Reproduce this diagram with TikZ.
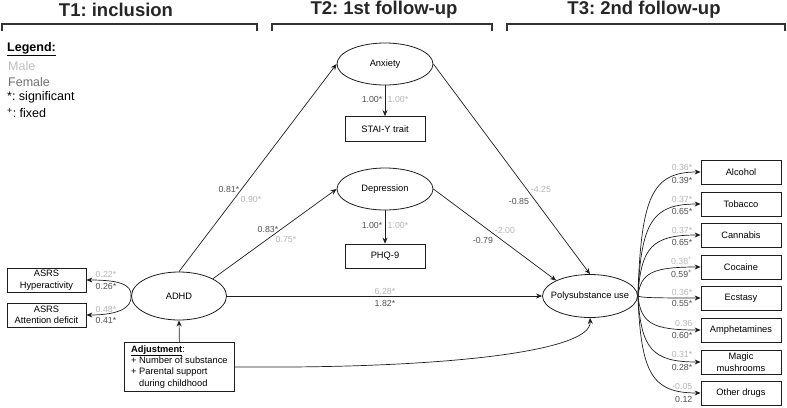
\documentclass[tikz,border=0pt]{standalone}
\usepackage{fontspec}
\setmainfont{Liberation Sans}
\usetikzlibrary{arrows.meta,shapes.geometric}
\definecolor{lightlab}{HTML}{B5B5B5}
\definecolor{darklab}{HTML}{505050}
\definecolor{malec}{HTML}{BDBDBD}
\definecolor{femalec}{HTML}{6E6E6E}
\definecolor{linec}{HTML}{1E1E1E}
\frenchspacing
\begin{document}
\begin{tikzpicture}[x=1pt,y=-1pt,
  ell/.style={ellipse,draw=linec,line width=0.8pt,minimum width=96pt,minimum height=42pt,inner sep=0pt,font=\fontsize{9.3}{11}\selectfont},
  box/.style={rectangle,draw=linec,line width=0.8pt,minimum width=80pt,minimum height=24pt,inner sep=1pt,align=center,font=\fontsize{9.3}{11.5}\selectfont},
  arr/.style={draw=linec,line width=0.7pt,-{Stealth[length=6pt,width=5pt]}},
  lt/.style={text=lightlab,inner sep=0.5pt,font=\fontsize{8.8}{10}\selectfont},
  dk/.style={text=darklab,inner sep=0.5pt,font=\fontsize{8.8}{10}\selectfont},
  ttl/.style={font=\fontsize{18.5}{20}\selectfont\bfseries,text=black!85},
  brk/.style={draw=black!80,line width=1.3pt},
  leg/.style={anchor=west,inner sep=0pt,font=\fontsize{12.5}{14}\selectfont}
]
\useasboundingbox (0,0) rectangle (787,407);

% titles and brackets
\node[ttl] (t1) at (116,10) {T1: inclusion};
\node[ttl] (t2) at (384,10) {T2: 1st follow-up};
\node[ttl] (t3) at (644,10) {T3: 2nd follow-up};
\draw[brk] (2,31) -- (2,24) -- (257,24) -- (257,31);
\draw[brk] (272,31) -- (272,24) -- (492,24) -- (492,31);
\draw[brk] (507,31) -- (507,24) -- (785,24) -- (785,31);

% legend
\node[leg] (lg0) at (7,49) {\underline{\textbf{Legend:}}};
\node[leg,text=malec] (lg1) at (8,66) {Male};
\node[leg,text=femalec] (lg2) at (8,82) {Female};
\node[leg] (lg3) at (7,97) {*: significant};
\node[leg] (lg4) at (7,113) {\textsuperscript{+}: fixed};

% nodes
\node[ell] (anx) at (385,64) {\makebox[0pt]{Anxiety}};
\node[box,minimum height=25pt] (stai) at (385,129) {STAI-Y trait};
\node[ell] (dep) at (385,189) {\makebox[0pt]{Depression}};
\node[box] (phq) at (385,256) {PHQ-9};
\node[ell,minimum width=95pt,minimum height=48pt] (adhd) at (179,296) {\makebox[0pt]{ADHD}};
\node[ell,minimum width=95pt,minimum height=43pt] (poly) at (590,296) {\makebox[0pt]{Polysubstance use}};
\node[box,minimum width=79pt] (hyp) at (46.5,280) {ASRS\\Hyperactivity};
\node[box,minimum width=79pt] (att) at (46.5,315) {ASRS\\Attention deficit};
\node[rectangle,draw=linec,line width=0.8pt,anchor=north west,minimum width=110pt,minimum height=49pt,inner sep=3pt,align=left,font=\fontsize{9.3}{11.3}\selectfont] (adj) at (124,342)
  {\underline{\textbf{Adjustment}}:\\+ Number of substance\\+ Parental support\\\phantom{+ }during childhood};

\node[box] (alc) at (741,172) {Alcohol};
\node[box] (tob) at (741,204) {Tobacco};
\node[box] (can) at (741,235) {Cannabis};
\node[box] (coc) at (741,267) {Cocaine};
\node[box] (ecs) at (741,298) {Ecstasy};
\node[box] (amp) at (741,330) {Amphetamines};
\node[box] (mag) at (741,362) {Magic\\mushrooms};
\node[box] (oth) at (741,393) {Other drugs};

% edges
\draw[arr] (adhd.north) -- (anx.west);
\draw[arr] (adhd.north east) -- (dep.west);
\draw[arr] (adhd.east) -- (poly.west);
\draw[arr] (anx.south) -- (stai.north);
\draw[arr] (dep.south) -- (phq.north);
\draw[arr] (anx.east) -- (poly.north);
\draw[arr] (dep.east) -- (poly.north west);
\draw[arr] (adj.north) -- (adhd.south);
\draw[arr] (adj.east) .. controls (440,369) and (592,352) .. (poly.south);
\draw[arr] (adhd.west) .. controls (132,284) and (118,280) .. (hyp.east);
\draw[arr] (adhd.west) .. controls (132,308) and (118,315) .. (att.east);
\foreach \n/\y in {alc/172,tob/204,can/235,coc/267,ecs/298,amp/330,mag/362,oth/393}{
  \draw[arr] (poly.east) .. controls (641,{296+0.8*(\y-296)}) and (652,\y) .. (\n.west);
}

% edge labels
\node[dk] (e1a) at (229,189) {0.81*};
\node[lt] (e1b) at (251,199) {0.90*};
\node[dk] (e2a) at (268,229) {0.83*};
\node[lt] (e2b) at (286,239) {0.75*};
\node[lt] (e3a) at (385,291) {6.28*};
\node[dk] (e3b) at (385,303) {1.82*};
\node[dk,anchor=east] (e4a) at (383,99) {1.00*};
\node[lt,anchor=west] (e4b) at (387,99) {1.00*};
\node[dk,anchor=east] (e5a) at (383,225) {1.00*};
\node[lt,anchor=west] (e5b) at (387,225) {1.00*};
\node[lt] (e6a) at (541,189) {-4.25};
\node[dk] (e6b) at (519,201) {-0.85};
\node[lt] (e7a) at (505,230) {-2.00};
\node[dk] (e7b) at (483,240) {-0.79};
\node[lt] (e8a) at (106,274) {0.22*};
\node[dk] (e8b) at (106,286) {0.26*};
\node[lt] (e9a) at (106,309) {0.48*};
\node[dk] (e9b) at (106,320) {0.41*};

\node[lt,anchor=east] (d1a) at (693,167) {0.36*};
\node[dk,anchor=east] (d1b) at (693,180) {0.39*};
\node[lt,anchor=east] (d2a) at (693,199) {0.37*};
\node[dk,anchor=east] (d2b) at (693,211) {0.65*};
\node[lt,anchor=east] (d3a) at (693,230) {0.37*};
\node[dk,anchor=east] (d3b) at (693,242) {0.65*};
\node[lt,anchor=east] (d4a) at (693,261) {0.38\textsuperscript{+}};
\node[dk,anchor=east] (d4b) at (693,274) {0.59\textsuperscript{+}};
\node[lt,anchor=east] (d5a) at (693,292) {0.36*};
\node[dk,anchor=east] (d5b) at (693,303) {0.55*};
\node[lt,anchor=east] (d6a) at (693,323) {0.36};
\node[dk,anchor=east] (d6b) at (693,335) {0.60*};
\node[lt,anchor=east] (d7a) at (693,354) {0.31*};
\node[dk,anchor=east] (d7b) at (693,367) {0.28*};
\node[lt,anchor=east] (d8a) at (693,386) {-0.05};
\node[dk,anchor=east] (d8b) at (693,399) {0.12};
\end{tikzpicture}
\end{document}
